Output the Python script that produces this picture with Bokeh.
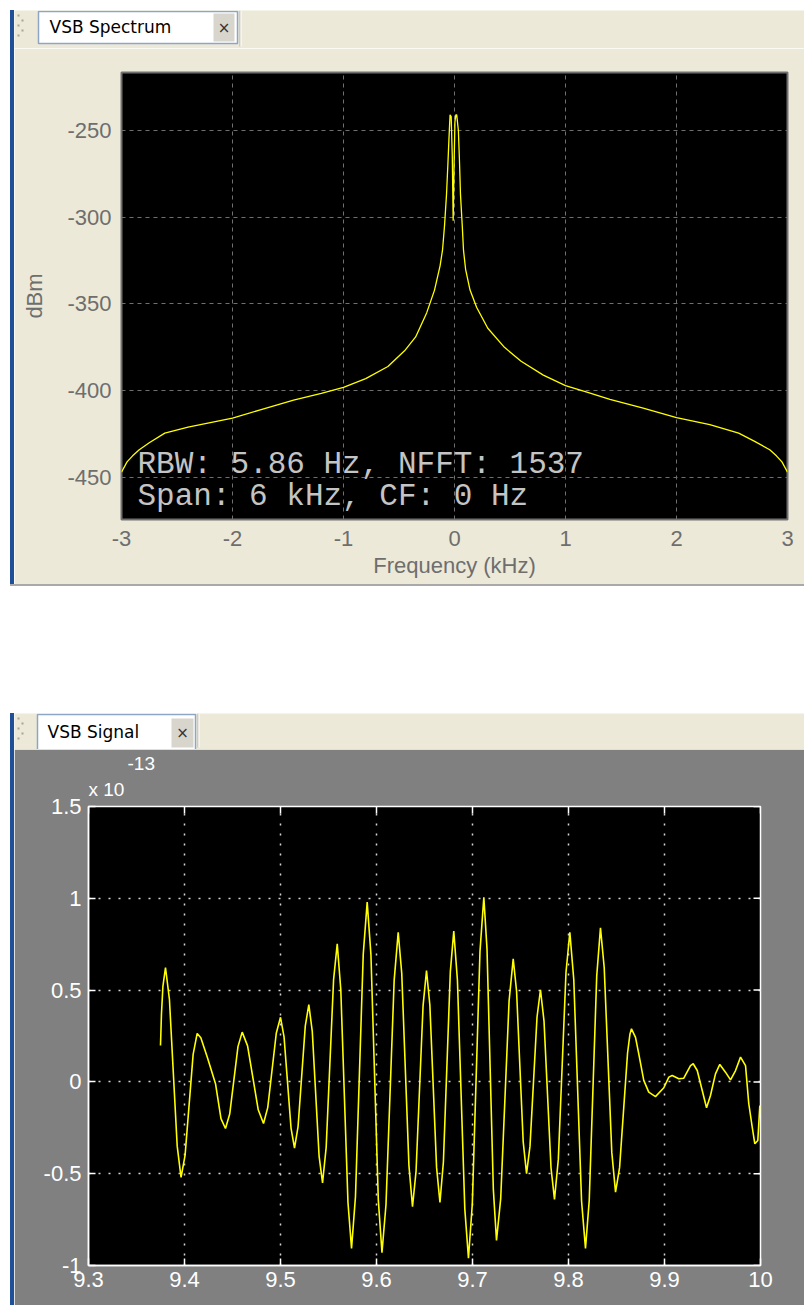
from bokeh.plotting import figure
from bokeh.models import Range1d, FixedTicker, Label, Spacer, Title
from bokeh.layouts import column, row
from bokeh.embed import file_html
from bokeh.resources import INLINE

# ---------------- data: VSB spectrum ----------------
freq_khz = [-3.0, -2.95, -2.9, -2.84, -2.75, -2.61, -2.4, -2.0, -1.75, -1.45, -1.2, -1.0,
            -0.8, -0.6, -0.45, -0.35, -0.25, -0.18, -0.13, -0.108, -0.09, -0.072, -0.06,
            -0.05, -0.04, -0.03, -0.02, -0.012, -0.004, 0.004, 0.012, 0.02, 0.035, 0.045,
            0.054, 0.07, 0.081, 0.1, 0.14, 0.2, 0.3, 0.45, 0.6, 0.8, 1.0, 1.2, 1.4, 1.7,
            2.0, 2.3, 2.56, 2.7, 2.84, 2.9, 2.95, 3.0]
power_dbm = [-447, -441, -437.5, -434, -430, -424.4, -421, -415.8, -411, -405.4, -401.5, -398,
             -393, -386, -377, -369, -355, -342, -328, -319, -305, -287, -270,
             -255, -241, -242, -265, -302, -270, -245, -241, -241, -250, -268,
             -287, -305, -319, -330, -342, -352, -364, -375, -383, -391, -397, -401, -405, -410,
             -415.5, -419.5, -424.4, -429, -434, -437.5, -441, -447]
spec_xticks = [-3, -2, -1, 0, 1, 2, 3]
spec_yticks = [-450, -400, -350, -300, -250]
spec_info = ["RBW: 5.86 Hz, NFFT: 1537", "Span: 6 kHz, CF: 0 Hz"]

# ---------------- data: VSB signal (amplitude in units of 1e-13) ----------------
time_s = [9.3750, 9.3760, 9.3775, 9.3802, 9.3843, 9.3924, 9.3964, 9.4006, 9.4090, 9.4132,
          9.4170, 9.4240, 9.4323, 9.4380, 9.4427, 9.4471, 9.4557, 9.4601, 9.4657, 9.4768,
          9.4823, 9.4867, 9.4956, 9.5000, 9.5037, 9.5110, 9.5146, 9.5183, 9.5258, 9.5295,
          9.5331, 9.5402, 9.5438, 9.5476, 9.5553, 9.5591, 9.5628, 9.5703, 9.5740, 9.5781,
          9.5862, 9.5903, 9.5942, 9.6019, 9.6057, 9.6099, 9.6184, 9.6226, 9.6263, 9.6338,
          9.6375, 9.6412, 9.6485, 9.6521, 9.6556, 9.6626, 9.6661, 9.6697, 9.6769, 9.6805,
          9.6843, 9.6920, 9.6958, 9.6998, 9.7078, 9.7118, 9.7151, 9.7217, 9.7250, 9.7294,
          9.7381, 9.7424, 9.7459, 9.7528, 9.7563, 9.7599, 9.7672, 9.7708, 9.7745, 9.7818,
          9.7854, 9.7894, 9.7974, 9.8014, 9.8055, 9.8136, 9.8177, 9.8216, 9.8294, 9.8333,
          9.8372, 9.8451, 9.8490, 9.8532, 9.8615, 9.8640, 9.8656, 9.8698, 9.8732, 9.8784,
          9.8836, 9.8906, 9.8993, 9.9045, 9.9080, 9.9149, 9.9201, 9.9271, 9.9299, 9.9341,
          9.9393, 9.9438, 9.9479, 9.9531, 9.9576, 9.9635, 9.9688, 9.9740, 9.9792, 9.9844,
          9.9878, 9.9914, 9.9941, 9.9972, 9.9993]
amp_e13 = [0.198, 0.37, 0.52, 0.623, 0.45, -0.35, -0.52, -0.40, 0.15, 0.264,
           0.24, 0.13, -0.01, -0.20, -0.254, -0.175, 0.192, 0.271, 0.196, -0.152,
           -0.227, -0.14, 0.265, 0.352, 0.245, -0.253, -0.36, -0.243, 0.304, 0.421,
           0.275, -0.404, -0.55, -0.355, 0.557, 0.752, 0.503, -0.658, -0.907, -0.624,
           0.696, 0.979, 0.693, -0.644, -0.93, -0.668, 0.553, 0.815, 0.591, -0.456,
           -0.68, -0.487, 0.414, 0.607, 0.417, -0.467, -0.657, -0.435, 0.599, 0.821,
           0.554, -0.693, -0.96, -0.665, 0.711, 1.006, 0.726, -0.584, -0.864, -0.634,
           0.44, 0.670, 0.495, -0.325, -0.5, -0.35, 0.352, 0.502, 0.331, -0.469,
           -0.64, -0.422, 0.597, 0.815, 0.557, -0.649, -0.907, -0.645, 0.577, 0.839,
           0.623, -0.384, -0.60, -0.467, 0.156, 0.26, 0.289, 0.243, 0.153, 0.008,
           -0.056, -0.08, -0.032, 0.026, 0.035, 0.017, 0.02, 0.089, 0.099, 0.062,
           -0.047, -0.141, -0.074, 0.044, 0.095, 0.053, 0.011, 0.062, 0.135, 0.089,
           -0.119, -0.247, -0.337, -0.319, -0.129]
sig_xticks = [9.3, 9.4, 9.5, 9.6, 9.7, 9.8, 9.9, 10]
sig_yticks = [-1, -0.5, 0, 0.5, 1, 1.5]
sig_exponent = ["x 10", "-13"]

# ---------------- styling ----------------
BEIGE = "#ece9d8"
GRAYBG = "#808080"
BLUE = "#1f4f96"
TXT_GRAY = "#6e6e6e"
FONT = "Liberation Sans"
PANEL_W = 790


def tab_strip(h, tab_l, tab_r, tab_t, tab_b, x_l, x_r, x_t, x_b, label, text_x, text_base, sep_x):
    t = figure(width=PANEL_W, height=h, x_range=Range1d(0, PANEL_W), y_range=Range1d(h, 0),
               min_border=0, toolbar_location=None, output_backend="svg",
               x_axis_location=None, y_axis_location=None, frame_align=False,
               background_fill_color=BEIGE, border_fill_color=BEIGE, outline_line_color=None)
    t.grid.visible = False
    # gripper dots
    t.rect(x=[4, 8, 4, 8, 4], y=[5, 10, 15, 20, 25], width=2, height=2,
           fill_color="#a9a596", line_color=None)
    # separator
    t.segment(x0=[sep_x], y0=[0], x1=[sep_x], y1=[h - 2], line_color="#b5b1a2", line_width=1)
    t.segment(x0=[sep_x + 1], y0=[0], x1=[sep_x + 1], y1=[h - 2], line_color="#ffffff", line_width=1)
    # tab
    t.quad(left=[tab_l], right=[tab_r], top=[tab_t], bottom=[tab_b],
           fill_color="#ffffff", line_color="#8ea6c6", line_width=1.5)
    t.quad(left=[x_l], right=[x_r], top=[x_t], bottom=[x_b],
           fill_color="#d8d5cc", line_color=None)
    t.add_layout(Label(x=(x_l + x_r) / 2, y=(x_t + x_b) / 2, text="\u00d7", text_font="DejaVu Sans",
                       text_font_size="15px", text_color="#333333",
                       text_align="center", text_baseline="middle"))
    t.add_layout(Label(x=text_x, y=text_base, text=label, text_font="DejaVu Sans",
                       text_font_size="17px", text_color="#000000",
                       text_baseline="alphabetic"))
    return t


# ---------------- top: spectrum ----------------
tab1 = tab_strip(38, 24, 223, 1, 33, 199, 220, 3, 31, "VSB Spectrum", 35, 16, 225.5)

p1 = figure(frame_width=666, frame_height=447, min_border_left=107, min_border_right=17,
            min_border_top=24, min_border_bottom=65, frame_align=False,
            x_range=Range1d(-3, 3), y_range=Range1d(-474.2, -216.6),
            output_backend="svg", toolbar_location=None,
            background_fill_color="#000000", border_fill_color=BEIGE,
            outline_line_color="#707070", outline_line_width=2)
for ax in (p1.xaxis[0], p1.yaxis[0]):
    ax.axis_line_color = None
    ax.major_tick_line_color = None
    ax.minor_tick_line_color = None
    ax.major_tick_in = 0
    ax.major_tick_out = 0
    ax.minor_tick_in = 0
    ax.minor_tick_out = 0
    ax.major_label_text_color = TXT_GRAY
    ax.major_label_text_font = FONT
    ax.major_label_text_font_size = "22px"
    ax.axis_label_text_color = TXT_GRAY
    ax.axis_label_text_font = FONT
    ax.axis_label_text_font_size = "22px"
    ax.axis_label_text_font_style = "normal"
p1.xaxis.ticker = FixedTicker(ticks=spec_xticks)
p1.yaxis.ticker = FixedTicker(ticks=spec_yticks)
p1.xaxis.major_label_overrides = {t: str(t) for t in spec_xticks}
p1.yaxis.major_label_overrides = {t: str(t) for t in spec_yticks}
p1.xaxis.major_label_standoff = 11
p1.yaxis.major_label_standoff = 10
p1.xaxis.axis_label = "Frequency (kHz)"
p1.yaxis.axis_label = "dBm"
p1.xaxis.axis_label_standoff = 4
p1.yaxis.axis_label_standoff = 17
p1.grid.grid_line_color = "#707070"
p1.grid.grid_line_dash = "4 4"
p1.grid.grid_line_width = 1

p1.line(freq_khz, power_dbm, line_color="#ffff00", line_width=1.3)

p1.add_layout(Label(x=-2.856, y=-442.6, text=spec_info[0], text_font="Liberation Mono",
                    text_font_size="31px", text_color="#c4c4c4", text_baseline="alphabetic"))
p1.add_layout(Label(x=-2.856, y=-460.7, text=spec_info[1], text_font="Liberation Mono",
                    text_font_size="31px", text_color="#c4c4c4", text_baseline="alphabetic"))

# ---------------- bottom: signal ----------------
tab2 = tab_strip(36, 23, 181, 1, 37, 157, 179, 5, 34, "VSB Signal", 33, 18, 183.5)

SIG_FW, SIG_FH = 672, 459
p2 = figure(frame_width=SIG_FW, frame_height=SIG_FH, min_border_left=74, min_border_right=44,
            min_border_top=57, min_border_bottom=40, frame_align=False,
            x_range=Range1d(9.3, 10), y_range=Range1d(-1, 1.5),
            output_backend="svg", toolbar_location=None,
            background_fill_color="#000000", border_fill_color=GRAYBG,
            outline_line_color="#ffffff", outline_line_width=1.5)
for ax in p2.axis:
    ax.axis_line_color = "#ffffff"
    ax.axis_line_width = 1.5
    ax.major_tick_line_color = "#ffffff"
    ax.major_tick_line_width = 1.5
    ax.major_tick_in = 7
    ax.major_tick_out = 0
    ax.minor_tick_line_color = None
    ax.minor_tick_in = 0
    ax.minor_tick_out = 0
    ax.major_label_text_color = "#ffffff"
    ax.major_label_text_font = FONT
    ax.major_label_text_font_size = "22px"
p2.xaxis.ticker = FixedTicker(ticks=sig_xticks)
p2.yaxis.ticker = FixedTicker(ticks=sig_yticks)
p2.xaxis.major_label_standoff = 6
p2.yaxis.major_label_standoff = 7
p2.xaxis.major_label_overrides = {10: "10"}
p2.yaxis.major_label_overrides = {-1: "-1", -0.5: "-0.5", 0: "0", 1: "1"}
p2.grid.grid_line_color = "#d4d4d4"
p2.grid.grid_line_dash = "2 8"
p2.grid.grid_line_width = 1.5

# inward ticks on the top and right edges (box style)
x0, x1 = p2.x_range.start, p2.x_range.end
y0, y1 = p2.y_range.start, p2.y_range.end
tdy = 7 * (y1 - y0) / SIG_FH
tdx = 7 * (x1 - x0) / SIG_FW
p2.segment(x0=sig_xticks, y0=[y1] * len(sig_xticks), x1=sig_xticks, y1=[y1 - tdy] * len(sig_xticks),
           line_color="#ffffff", line_width=1.5)
p2.segment(x0=[x1] * len(sig_yticks), y0=sig_yticks, x1=[x1 - tdx] * len(sig_yticks), y1=sig_yticks,
           line_color="#ffffff", line_width=1.5)

p2.line(time_s, amp_e13, line_color="#ffff00", line_width=1.6)

p2.add_layout(Title(text=sig_exponent[0], align="left", offset=0, standoff=14,
                    text_font=FONT, text_font_size="19px", text_font_style="normal",
                    text_color="#ffffff"), "above")
p2.add_layout(Title(text=sig_exponent[1], align="left", offset=39, standoff=0,
                    text_font=FONT, text_font_size="19px", text_font_style="normal",
                    text_color="#ffffff"), "above")

# ---------------- layout ----------------
top_block = row(Spacer(width=10, height=574),
                Spacer(width=4, height=574, styles={"background-color": BLUE}),
                column(tab1, p1))
sep_line = row(Spacer(width=10, height=2),
               Spacer(width=794, height=2, styles={"background-color": "#a9a9a9"}))
bottom_block = row(Spacer(width=10, height=592),
                   Spacer(width=4, height=592, styles={"background-color": BLUE}),
                   column(tab2, p2))
layout = column(Spacer(width=804, height=10), top_block, sep_line,
                Spacer(width=804, height=127), bottom_block)

open("out.html", "w").write(file_html(layout, INLINE))
